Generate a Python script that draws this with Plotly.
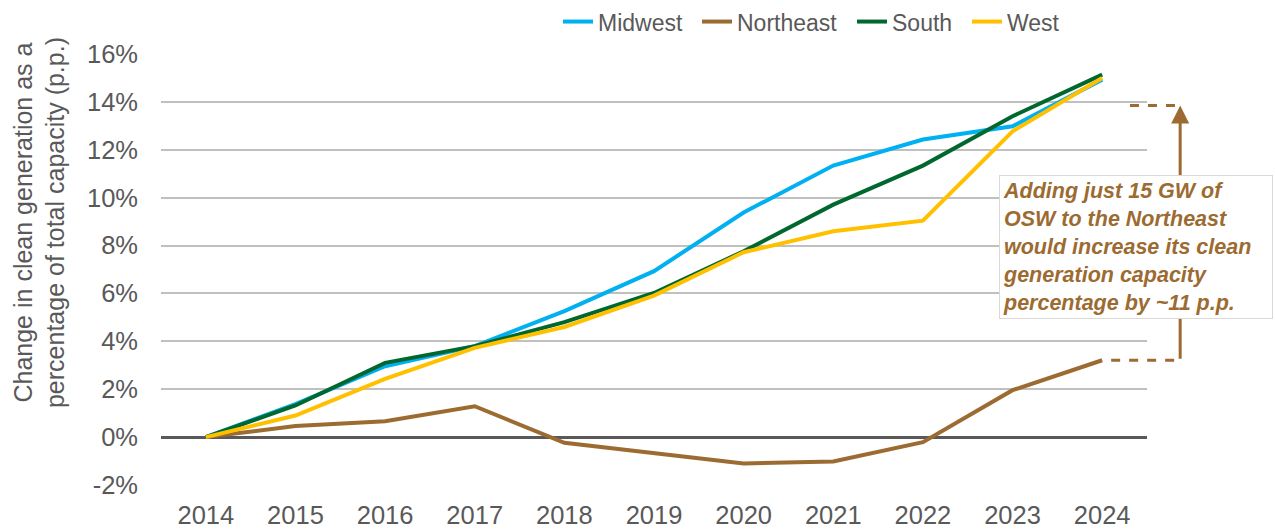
import plotly.graph_objects as go

years = ["2014", "2015", "2016", "2017", "2018", "2019", "2020", "2021", "2022", "2023", "2024"]
midwest = [0.0, 1.38, 2.96, 3.80, 5.26, 6.93, 9.38, 11.34, 12.43, 12.98, 14.93]
northeast = [0.0, 0.46, 0.66, 1.29, -0.24, -0.68, -1.10, -1.02, -0.21, 1.96, 3.21]
south = [0.0, 1.32, 3.10, 3.80, 4.80, 6.02, 7.76, 9.71, 11.34, 13.40, 15.14]
west = [0.0, 0.90, 2.43, 3.73, 4.60, 5.91, 7.72, 8.60, 9.04, 12.77, 15.00]
y_ticks = [-2, 0, 2, 4, 6, 8, 10, 12, 14, 16]
y_tick_labels = ["-2%", "0%", "2%", "4%", "6%", "8%", "10%", "12%", "14%", "16%"]
target_level = 13.85  # Northeast with 15 GW OSW added (annotation level)

series = [
    ("Midwest", midwest, "#00B0F0"),
    ("Northeast", northeast, "#9C6B31"),
    ("South", south, "#00682F"),
    ("West", west, "#FFC000"),
]
legend_left_px = [558, 697, 852, 967]

FONT = "Liberation Sans, Arial, sans-serif"
GREY = "#595959"
BROWN = "#9C6B31"

PL, PR, PT, PB = 161, 1147, 54.4, 485.5  # plot area in pixels
PW, PH = PR - PL, PB - PT

fig = go.Figure()
legend_ids = ["legend", "legend2", "legend3", "legend4"]
for (name, vals, color), lid in zip(series, legend_ids):
    fig.add_trace(go.Scatter(
        x=years, y=vals, name=name, mode="lines",
        line=dict(color=color, width=4),
        hoverinfo="skip", legend=lid,
    ))

n = len(years)


def cat_to_paper(idx):
    return (idx + 0.5) / n


x_bracket = cat_to_paper(n - 1 + 0.87)
x_top_start = cat_to_paper(n - 1 + 0.31)
x_bottom_start = cat_to_paper(n - 1 + 0.1)

# dashed connectors
fig.add_shape(type="line", xref="paper", yref="y",
              x0=x_bottom_start, x1=x_bracket, y0=northeast[-1], y1=northeast[-1],
              line=dict(color=BROWN, width=3, dash="dash"))
fig.add_shape(type="line", xref="paper", yref="y",
              x0=x_top_start, x1=x_bracket, y0=target_level, y1=target_level,
              line=dict(color=BROWN, width=3, dash="dash"))
# arrow
fig.add_annotation(x=x_bracket, y=target_level, ax=0, ay=northeast[-1],
                   xref="paper", yref="y", axref="pixel", ayref="y",
                   showarrow=True, arrowhead=2, arrowsize=1.2, arrowwidth=3,
                   arrowcolor=BROWN, text="", standoff=0)
# text box
fig.add_annotation(
    xref="paper", yref="paper", x=(999 - PL) / PW, y=(PB - 247.5) / PH,
    xanchor="left", yanchor="middle", showarrow=False,
    text="Adding just 15 GW of<br>OSW to the Northeast<br>would increase its clean<br>generation capacity<br>percentage by ~11 p.p.",
    align="left", width=266, height=136, valign="middle",
    bgcolor="white", bordercolor="#D9D9D9", borderwidth=1, borderpad=3,
    font=dict(family=FONT, size=21.5, color=BROWN, weight="bold", style="italic"),
)
# y-axis title
fig.add_annotation(
    xref="paper", yref="paper", x=(39 - PL) / PW, y=(PB - 223.5) / PH,
    xanchor="center", yanchor="middle", showarrow=False, textangle=-90,
    text="Change in clean generation as a<br>percentage of total capacity (p.p.)",
    font=dict(family=FONT, size=25, color=GREY),
)

legend_common = dict(orientation="h", xanchor="left", yanchor="middle",
                     y=(PB - 22) / PH,
                     font=dict(family=FONT, size=23, color=GREY),
                     bgcolor="rgba(0,0,0,0)", itemwidth=30)
legend_layout = {}
for lid, px in zip(legend_ids, legend_left_px):
    legend_layout[lid] = dict(legend_common, x=(px - PL) / PW)

fig.update_layout(
    width=1275, height=529,
    margin=dict(l=PL, r=1275 - PR, t=PT, b=529 - PB, autoexpand=False),
    plot_bgcolor="white", paper_bgcolor="white",
    font=dict(family=FONT, color=GREY),
    showlegend=True,
    xaxis=dict(type="category", range=[-0.5, n - 0.5], showgrid=False,
               showline=False, ticks="", zeroline=False,
               tickfont=dict(family=FONT, size=25.5, color=GREY),
               ticklabelstandoff=12),
    yaxis=dict(range=[-2, 16], tickvals=y_ticks, ticktext=y_tick_labels,
               showgrid=True, gridcolor="#C0C0C0", gridwidth=2,
               zeroline=True, zerolinecolor=GREY, zerolinewidth=2.5,
               showline=False, ticks="",
               tickfont=dict(family=FONT, size=25.5, color=GREY),
               ticklabelstandoff=22),
    **legend_layout,
)

fig.write_html(
    "out.html",
    config={"displayModeBar": False},
    post_script="document.body.style.margin='0';document.body.style.overflow='hidden';",
)
